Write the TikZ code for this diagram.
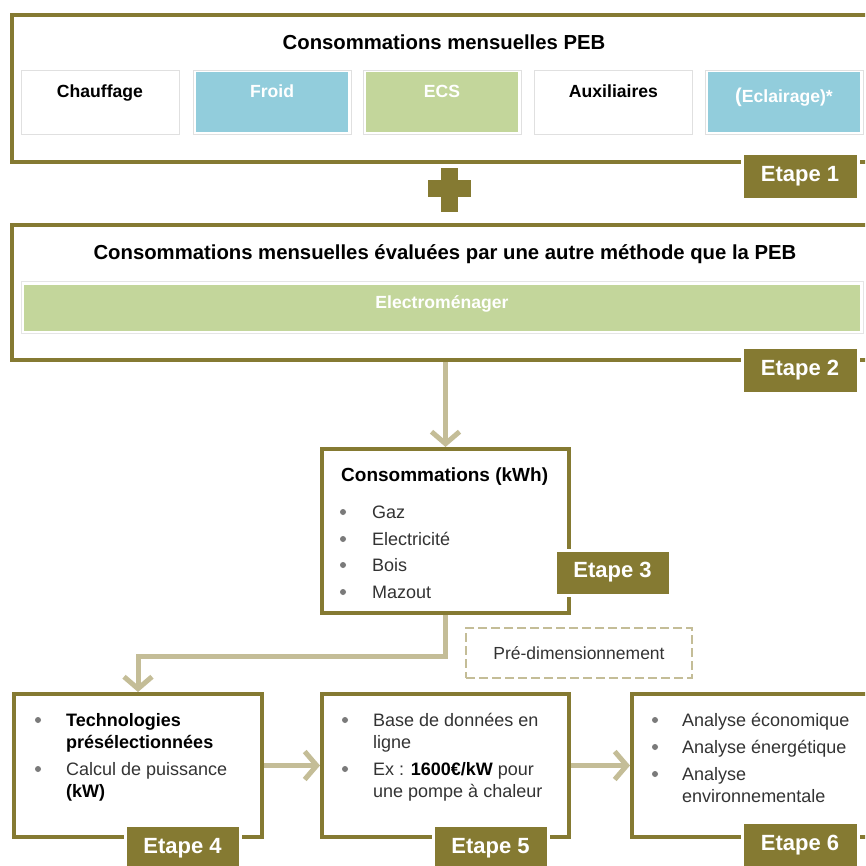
\documentclass[tikz,border=0pt]{standalone}
\usepackage{fontspec}
\setmainfont{Liberation Sans}
\usetikzlibrary{arrows.meta,calc}
\definecolor{olv}{HTML}{857A32}
\definecolor{khaki}{HTML}{C4BD97}
\definecolor{lblue}{HTML}{92CDDC}
\definecolor{lgreen}{HTML}{C3D69B}
\definecolor{txt}{HTML}{333333}
\definecolor{dotc}{HTML}{7A7A7A}
\begin{document}
\begin{tikzpicture}[x=1pt,y=-1pt,
  bigbox/.style={draw=olv, line width=4pt, fill=white, anchor=north west, inner sep=0},
  badge/.style={fill=olv, draw=white, line width=3pt, text=white,
    font=\bfseries\fontsize{22}{24}\selectfont, minimum width=116, minimum height=46, inner sep=0},
  titletxt/.style={font=\bfseries\fontsize{20.3}{22}\selectfont, anchor=base, inner sep=0},
  cellframe/.style={draw=black!12, line width=0.8pt, fill=white, minimum width=158, minimum height=64, inner sep=0},
  cellfill/.style={minimum width=152, minimum height=60, inner sep=0},
  celltxt/.style={font=\bfseries\fontsize{17.6}{20}\selectfont, anchor=base, inner sep=0},
  bodytxt/.style={font=\fontsize{18}{22}\selectfont, text=txt, anchor=base west, inner sep=0},
  dot/.style={circle, fill=dotc, minimum size=6, inner sep=0},
  conn/.style={draw=khaki, line width=5pt},
  tip/.style={-{Straight Barb[length=12pt,width=28pt,line width=5pt]}},
]
\useasboundingbox (0,0) rectangle (865,866);
\clip (0,0) rectangle (865,866);

% ---------- Box 1 ----------
\node[bigbox, minimum width=860, minimum height=147] (b1) at (10,13) {};
\node[titletxt] (t1) at (444,50) {Consommations mensuelles PEB};

\node[cellframe] (c1) at (100,102.5) {};
\node[celltxt, text=black] (c1t) at (100,98) {Chauffage};

\node[cellframe] (c2f) at (272,102.5) {};
\node[cellfill, fill=lblue] (c2) at (272,102.5) {};
\node[celltxt, text=white] (c2t) at (272,98) {Froid};

\node[cellframe] (c3f) at (442,102.5) {};
\node[cellfill, fill=lgreen] (c3) at (442,102.5) {};
\node[celltxt, text=white] (c3t) at (442,98) {ECS};

\node[cellframe] (c4) at (613.5,102.5) {};
\node[celltxt, text=black] (c4t) at (613.5,98) {Auxiliaires};

\node[cellframe] (c5f) at (784,102.5) {};
\node[cellfill, fill=lblue] (c5) at (784,102.5) {};
\node[celltxt, text=white] (c5t) at (784,103) {{\fontsize{20}{20}\selectfont(}Eclairage)*};

\node[badge] (e1) at (800,176.5) {Etape 1};

% ---------- Plus ----------
\fill[olv] (428,180) rectangle (471,197);
\fill[olv] (441,168) rectangle (458,212);

% ---------- Box 2 ----------
\node[bigbox, minimum width=860, minimum height=135] (b2) at (10,223) {};
\node[titletxt] (t2) at (445,259) {Consommations mensuelles évaluées par une autre méthode que la PEB};
\node[draw=black!10, line width=0.8pt, fill=white, minimum width=842, minimum height=52, inner sep=0] (elf) at (442,307.5) {};
\node[fill=lgreen, minimum width=836, minimum height=46, inner sep=0] (el) at (442,307.5) {};
\node[celltxt, text=white] (elt) at (442,308) {Electroménager};
\node[badge] (e2) at (800,370.5) {Etape 2};

% ---------- Box 3 ----------
\node[bigbox, minimum width=247, minimum height=164] (b3) at (320,447) {};
\node[titletxt, anchor=base west, font=\bfseries\fontsize{19}{22}\selectfont] (t3) at (341,481) {Consommations (kWh)};
\node[dot] (d31) at (343,512) {};
\node[bodytxt] (g1) at (372,518) {Gaz};
\node[dot] (d32) at (343,539) {};
\node[bodytxt] (g2) at (372,545) {Electricité};
\node[dot] (d33) at (343,565) {};
\node[bodytxt] (g3) at (372,571) {Bois};
\node[dot] (d34) at (343,592) {};
\node[bodytxt] (g4) at (372,598) {Mazout};
\node[badge, minimum width=115, minimum height=45] (e3) at (612.5,572.5) {Etape 3};

% ---------- Pre-dimensionnement ----------
\node[draw=khaki, dash pattern=on 9pt off 4pt, line width=2.5pt, minimum width=226, minimum height=50, inner sep=0,
  font=\fontsize{17.5}{20}\selectfont, text=txt] (pd) at (579,653) {Pré-dimensionnement};

% ---------- Box 4 ----------
\node[bigbox, minimum width=248, minimum height=143] (b4) at (12,692) {};
\node[dot] (d41) at (38,720) {};
\node[bodytxt, text=black] (p41) at (66,726) {\parbox[t]{190pt}{\raggedright\bfseries Technologies\\présélectionnées}};
\node[dot] (d42) at (38,769) {};
\node[bodytxt] (p42) at (66,775) {\parbox[t]{190pt}{\raggedright Calcul de puissance\\\textcolor{black}{\bfseries (kW)}}};
\node[badge, minimum width=115] (e4) at (182.5,848) {Etape 4};

% ---------- Box 5 ----------
\node[bigbox, minimum width=247, minimum height=143] (b5) at (320,692) {};
\node[dot] (d51) at (345,720) {};
\node[bodytxt] (p51) at (373,726) {\parbox[t]{190pt}{\raggedright Base de données en\\ligne}};
\node[dot] (d52) at (345,769) {};
\node[bodytxt] (p52) at (373,775) {\parbox[t]{190pt}{\raggedright Ex : \textcolor{black}{\bfseries 1600€/kW} pour\\une pompe à chaleur}};
\node[badge, minimum width=115] (e5) at (490.5,848) {Etape 5};

% ---------- Box 6 ----------
\node[bigbox, minimum width=245, minimum height=143] (b6) at (630,692) {};
\node[dot] (d61) at (655,720) {};
\node[bodytxt] (p61) at (682,726) {Analyse économique};
\node[dot] (d62) at (655,747) {};
\node[bodytxt] (p62) at (682,753) {Analyse énergétique};
\node[dot] (d63) at (655,774) {};
\node[bodytxt] (p63) at (682,780) {\parbox[t]{190pt}{\raggedright Analyse\\environnementale}};
\node[badge] (e6) at (800,845) {Etape 6};

% ---------- Connectors ----------
\draw[conn, tip] (b3.north |- b2.south) -- (b3.north);
\draw[conn, tip] (b3.south) -- ++(0,41) -| (b4.north);
\draw[conn, tip] (b4.east) -- (b5.west);
\draw[conn, tip] (b5.east) -- (b6.west);
\end{tikzpicture}
\end{document}
